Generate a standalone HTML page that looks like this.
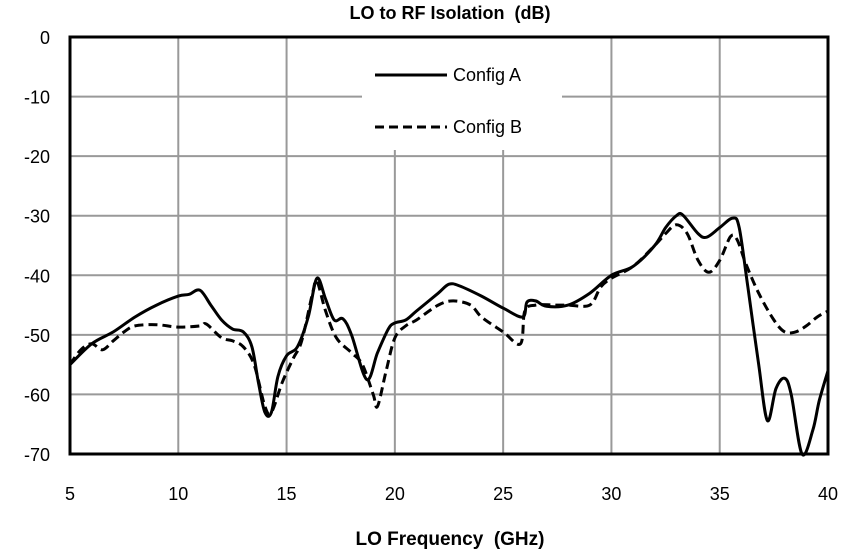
<!DOCTYPE html>
<html><head><meta charset="utf-8"><style>
html,body{margin:0;padding:0;background:#fff;}
svg{display:block;font-family:"Liberation Sans",Arial,sans-serif;}
text{white-space:pre;}
</style></head><body>
<svg id="chart" width="859" height="557">
<text x="450" y="19" text-anchor="middle" font-size="18" font-weight="bold">LO to RF Isolation  (dB)</text>
<g id="grid"></g>
<g id="ticks"></g>
<rect x="362" y="38" width="200" height="112" fill="#fff"/>
<g id="series"></g>
<rect x="70" y="37" width="758" height="417" fill="none" stroke="#000" stroke-width="3"/>
<g>
<g>
<line x1="375" y1="75" x2="447" y2="75" stroke="#000" stroke-width="3"/>
<text x="453" y="81" font-size="18">Config A</text></g>
<g>
<line x1="375" y1="127" x2="447" y2="127" stroke="#000" stroke-width="3" stroke-dasharray="9,5"/>
<text x="453" y="133" font-size="18">Config B</text></g>
</g>
<text x="450" y="545" text-anchor="middle" font-size="19" font-weight="bold">LO Frequency  (GHz)</text>
</svg>
<script>
const xTicks=[5,10,15,20,25,30,35,40];
const yTicks=[0,-10,-20,-30,-40,-50,-60,-70];
const freqA=[5,6,7,8,9,10,10.5,11,11.5,12,12.5,13,13.4,13.7,14,14.3,14.6,15,15.5,16,16.4,16.8,17.2,17.6,18,18.7,19.2,19.7,20,20.5,21,22,22.5,23,24,25,25.9,26.1,26.5,27,28,29,30,31,32,32.5,33,33.3,34,34.4,35,35.6,35.9,36.3,36.8,37.2,37.6,38,38.3,38.8,39.3,39.6,40];
const configA=[-55,-51.5,-49.5,-47,-45,-43.5,-43.2,-42.5,-45,-47.5,-49,-49.5,-52,-58,-63,-63,-57,-53.5,-52,-47,-40.5,-44,-47.5,-47.3,-50,-57.5,-53,-49,-48,-47.5,-46,-43,-41.5,-41.8,-43.5,-45.5,-47,-44.5,-44.3,-45.2,-45,-43,-40,-38.5,-35,-32,-30,-29.9,-33,-33.6,-32,-30.4,-32,-42,-55,-64.4,-59,-57.3,-60,-70,-66,-61,-56];
const freqB=[5,5.5,6,6.5,7,7.5,8,9,10,11,11.3,12,12.5,13,13.5,14,14.3,14.8,15.3,15.7,16.2,16.4,16.8,17.3,18,18.5,19,19.2,19.6,20,20.5,21,22,22.7,23.5,24,25,25.8,26,26.5,27.5,28,29,29.5,30,31,32,32.5,33,33.5,34,34.5,35,35.5,35.8,36.2,36.8,37.5,38,38.5,39,39.5,40];
const configB=[-55,-52.5,-51.5,-52.5,-51,-49.5,-48.5,-48.3,-48.7,-48.5,-48.2,-50.5,-51,-52,-55,-62,-63,-58,-54,-51,-43,-41,-46,-50.5,-53,-55,-60,-62,-56,-50.5,-48.5,-47.5,-45,-44.3,-45,-47,-49.5,-51.5,-46,-45,-45,-45,-45,-42,-40.5,-38.5,-35,-33,-31.5,-33,-37.5,-39.5,-37.5,-33.5,-34,-38,-43,-47.5,-49.5,-49.5,-48.5,-47,-46];
const X0=70,X1=828,Y0=37,Y1=454;
const xs=v=>X0+(v-5)/35*(X1-X0);
const ys=v=>Y0+(0-v)/70*(Y1-Y0);
const NS="http://www.w3.org/2000/svg";
const grid=document.getElementById('grid'),ticks=document.getElementById('ticks'),series=document.getElementById('series');
xTicks.forEach(t=>{
 const l=document.createElementNS(NS,'line');
 l.setAttribute('x1',xs(t));l.setAttribute('x2',xs(t));l.setAttribute('y1',Y0);l.setAttribute('y2',Y1);
 l.setAttribute('stroke','#999');l.setAttribute('stroke-width','2');
 
 
 grid.appendChild(l);
 const tx=document.createElementNS(NS,'text');
 tx.setAttribute('x',xs(t));tx.setAttribute('y',500);tx.setAttribute('text-anchor','middle');tx.setAttribute('font-size','18');
 tx.textContent=t;
 
 
 ticks.appendChild(tx);
});
yTicks.forEach(t=>{
 const l=document.createElementNS(NS,'line');
 l.setAttribute('x1',X0);l.setAttribute('x2',X1);l.setAttribute('y1',ys(t));l.setAttribute('y2',ys(t));
 l.setAttribute('stroke','#999');l.setAttribute('stroke-width','2');
 
 
 grid.appendChild(l);
 const tx=document.createElementNS(NS,'text');
 tx.setAttribute('x',50);tx.setAttribute('y',ys(t)+7);tx.setAttribute('text-anchor','end');tx.setAttribute('font-size','18');
 tx.textContent=t;
 
 
 ticks.appendChild(tx);
});
function smoothPath(pts){
 let d='M'+pts[0][0].toFixed(1)+','+pts[0][1].toFixed(1);
 for(let i=0;i<pts.length-1;i++){
  const p0=pts[Math.max(i-1,0)],p1=pts[i],p2=pts[i+1],p3=pts[Math.min(i+2,pts.length-1)];
  const c1x=p1[0]+(p2[0]-p0[0])/6,c1y=p1[1]+(p2[1]-p0[1])/6;
  const c2x=p2[0]-(p3[0]-p1[0])/6,c2y=p2[1]-(p3[1]-p1[1])/6;
  d+=' C'+c1x.toFixed(1)+','+c1y.toFixed(1)+' '+c2x.toFixed(1)+','+c2y.toFixed(1)+' '+p2[0].toFixed(1)+','+p2[1].toFixed(1);
 }
 return d;
}
function draw(fx,fy,dash,name){
 const p=document.createElementNS(NS,'path');
 p.setAttribute('d',smoothPath(fx.map((f,i)=>[xs(f),ys(fy[i])])));
 p.setAttribute('fill','none');p.setAttribute('stroke','#000');p.setAttribute('stroke-width','3');
 p.setAttribute('stroke-linejoin','round');
 if(dash)p.setAttribute('stroke-dasharray','9,5');
 
 
 series.appendChild(p);
}
draw(freqB,configB,true,'config-b-line');
draw(freqA,configA,false,'config-a-line');
</script>
</body></html>
